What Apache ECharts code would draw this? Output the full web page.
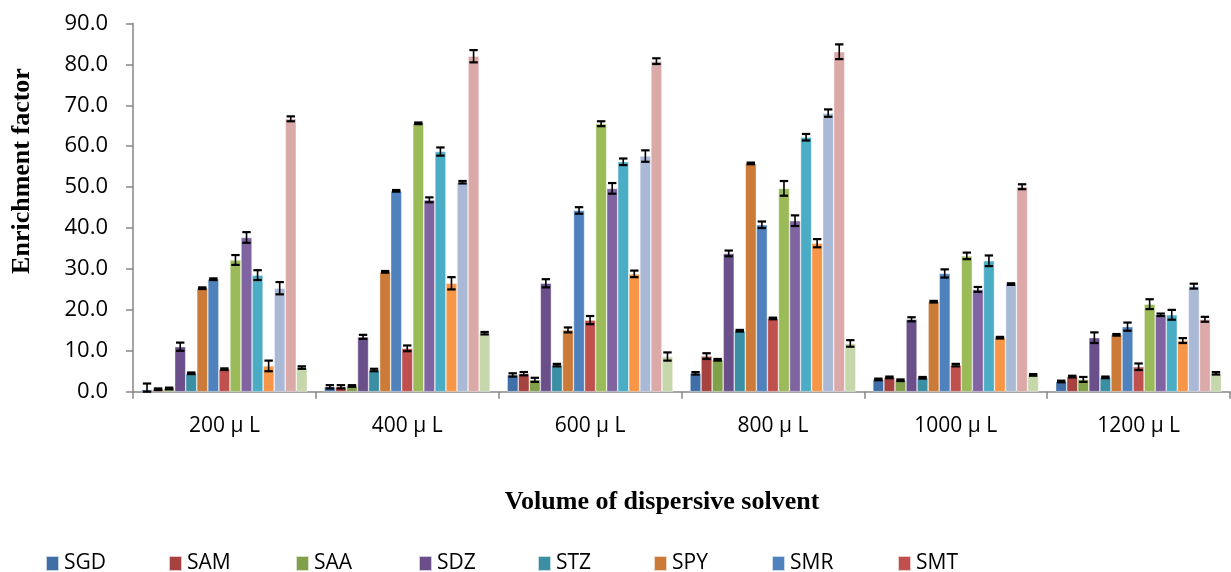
<!DOCTYPE html>
<html>
<head>
<meta charset="utf-8">
<script src="https://cdn.jsdelivr.net/npm/echarts@6/dist/echarts.min.js"></script>
<style>
html,body{margin:0;padding:0;background:#fff;}
#chart{width:1231px;height:572px;}
</style>
</head>
<body>
<div id="chart"></div>
<script>
const categories = ['200 μ L', '400 μ L', '600 μ L', '800 μ L', '1000 μ L', '1200 μ L'];
const seriesNames = ['SGD','SAM','SAA','SDZ','STZ','SPY','SMR','SMT','SMZ','SMM','SMX','SIX','SDM','SQX','SCP'];
const legendNames = ['SGD','SAM','SAA','SDZ','STZ','SPY','SMR','SMT'];
const colors = ['#3F6FA6','#A6423F','#80A04A','#6A4F8A','#3B8FA4','#CC7A38','#4F81BD','#C0504D','#9BBB59','#8064A2','#4BACC6','#F79646','#AAB9D6','#DBA9A8','#C6D7AC'];
const yTicks = [0,10,20,30,40,50,60,70,80,90];

// values per series: [200, 400, 600, 800, 1000, 1200]
const SGD = [0.5, 1.2, 4.1, 4.5, 3.0, 2.5];
const SAM = [0.6, 1.2, 4.4, 8.7, 3.5, 3.7];
const SAA = [0.8, 1.4, 2.9, 7.8, 2.8, 3.0];
const SDZ = [11.0, 13.4, 26.5, 33.8, 17.7, 13.2];
const STZ = [4.5, 5.3, 6.5, 14.9, 3.4, 3.5];
const SPY = [25.3, 29.3, 15.1, 55.8, 22.0, 13.9];
const SMR = [27.5, 49.1, 44.3, 40.8, 28.9, 15.9];
const SMT = [5.5, 10.6, 17.5, 17.9, 6.5, 6.1];
const SMZ = [32.2, 65.6, 65.5, 49.7, 33.2, 21.4];
const SMM = [37.7, 46.9, 49.7, 41.8, 25.0, 18.8];
const SMX = [28.5, 58.7, 56.2, 62.2, 32.0, 18.8];
const SIX = [6.3, 26.5, 28.8, 36.3, 13.2, 12.5];
const SDM = [25.3, 51.2, 57.6, 68.1, 26.3, 25.8];
const SQX = [66.7, 82.0, 80.8, 83.1, 50.1, 17.7];
const SCP = [5.9, 14.3, 8.6, 11.8, 4.1, 4.5];

// error (± half-range) per series
const errSGD = [1.5, 0.4, 0.4, 0.3, 0.2, 0.2];
const errSAM = [0.2, 0.4, 0.4, 0.7, 0.2, 0.2];
const errSAA = [0.2, 0.2, 0.5, 0.2, 0.2, 0.6];
const errSDZ = [1.0, 0.5, 1.0, 0.7, 0.5, 1.3];
const errSTZ = [0.2, 0.3, 0.3, 0.2, 0.2, 0.2];
const errSPY = [0.2, 0.2, 0.6, 0.2, 0.2, 0.2];
const errSMR = [0.2, 0.2, 0.8, 0.8, 1.0, 1.0];
const errSMT = [0.2, 0.7, 1.0, 0.2, 0.3, 0.8];
const errSMZ = [1.2, 0.2, 0.6, 1.8, 0.8, 1.2];
const errSMM = [1.3, 0.6, 1.3, 1.3, 0.6, 0.3];
const errSMX = [1.2, 1.0, 0.8, 0.8, 1.3, 1.2];
const errSIX = [1.3, 1.5, 0.8, 1.0, 0.2, 0.6];
const errSDM = [1.5, 0.3, 1.4, 0.9, 0.2, 0.6];
const errSQX = [0.6, 1.5, 0.7, 1.8, 0.6, 0.6];
const errSCP = [0.3, 0.3, 1.0, 0.8, 0.2, 0.3];

const values = [SGD,SAM,SAA,SDZ,STZ,SPY,SMR,SMT,SMZ,SMM,SMX,SIX,SDM,SQX,SCP];
const errors = [errSGD,errSAM,errSAA,errSDZ,errSTZ,errSPY,errSMR,errSMT,errSMZ,errSMM,errSMX,errSIX,errSDM,errSQX,errSCP];

const CAT_GAP = 0.093;
const N = seriesNames.length;

const barSeries = seriesNames.map((name, i) => ({
  name: name,
  type: 'bar',
  data: values[i],
  barGap: '0%',
  barCategoryGap: (CAT_GAP * 100) + '%',
  itemStyle: { color: colors[i], borderColor: 'rgba(255,255,255,0.7)', borderWidth: 0.6 },
  emphasis: { disabled: true },
  z: 2
}));

const errSeries = seriesNames.map((name, i) => ({
  name: 'err_' + name,
  type: 'custom',
  data: values[i].map((v, ci) => [ci, v, errors[i][ci]]),
  z: 5,
  silent: true,
  renderItem: function (params, api) {
    const ci = api.value(0), v = api.value(1), e = api.value(2);
    const band = api.size([1, 0])[0];
    const bw = band * (1 - CAT_GAP) / N;
    const cx = api.coord([ci, 0])[0] + (i - (N - 1) / 2) * bw;
    const yTop = api.coord([ci, v + e])[1];
    const yBot = api.coord([ci, Math.max(v - e, 0)])[1];
    const hw = bw * 0.38;
    const st = { stroke: '#000', lineWidth: 2.2 };
    return {
      type: 'group',
      children: [
        { type: 'line', shape: { x1: cx, y1: yTop, x2: cx, y2: yBot }, style: { stroke: '#000', lineWidth: 1.6 } },
        { type: 'line', shape: { x1: cx - hw, y1: yTop, x2: cx + hw, y2: yTop }, style: st },
        { type: 'line', shape: { x1: cx - hw, y1: yBot, x2: cx + hw, y2: yBot }, style: st }
      ]
    };
  }
}));

const legendLeft = [40, 163, 290, 413, 532, 648, 766, 892];
const legends = legendNames.map((n, k) => ({
  data: [n],
  left: legendLeft[k],
  top: 548,
  itemWidth: 13,
  itemHeight: 15,
  itemGap: 0,
  icon: 'rect',
  textStyle: { fontFamily: 'Open Sans', fontSize: 21, color: '#000' }
}));

const chart = echarts.init(document.getElementById('chart'), null, { renderer: 'canvas' });
chart.setOption({
  animation: false,
  backgroundColor: '#fff',
  grid: { left: 133, right: 1, top: 23.5, bottom: 180.3, containLabel: false },
  legend: legends,
  xAxis: {
    type: 'category',
    data: categories,
    axisLine: { lineStyle: { color: '#868686', width: 1.5 } },
    axisTick: { show: true, length: 7, lineStyle: { color: '#868686', width: 1.5 } },
    axisLabel: { fontFamily: 'Open Sans', fontSize: 21, color: '#000', margin: 24 }
  },
  yAxis: {
    type: 'value',
    min: 0,
    max: 90,
    interval: 10,
    axisLine: { show: true, lineStyle: { color: '#868686', width: 1.5 } },
    axisTick: { show: true, length: 7, lineStyle: { color: '#868686', width: 1.5 } },
    splitLine: { show: false },
    axisLabel: { fontFamily: 'Open Sans', fontSize: 22, color: '#000', margin: 25, formatter: v => v.toFixed(1) }
  },
  graphic: [{
    type: 'text',
    x: 22, y: 171,
    rotation: Math.PI / 2,
    style: { text: 'Enrichment factor', fontFamily: 'Liberation Serif', fontWeight: 'bold', fontSize: 26, fill: '#000', align: 'center', verticalAlign: 'middle' }
  }, {
    type: 'text',
    x: 662, y: 502,
    style: { text: 'Volume of dispersive solvent', fontFamily: 'Liberation Serif', fontWeight: 'bold', fontSize: 26, fill: '#000', align: 'center', verticalAlign: 'middle' }
  }],
  series: barSeries.concat(errSeries)
});
</script>
</body>
</html>
